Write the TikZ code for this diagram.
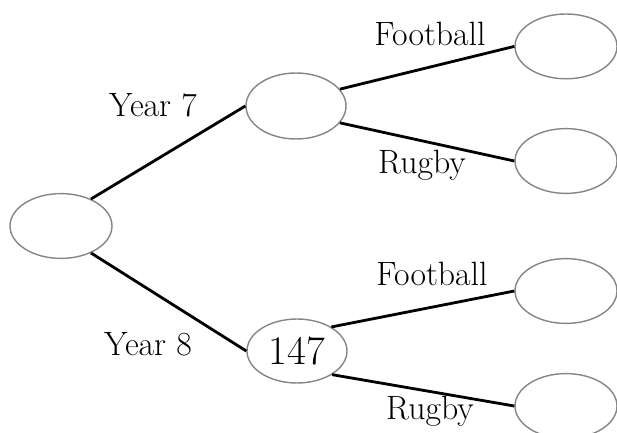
\documentclass[tikz,border=0pt]{standalone}
\usepackage{amsmath}
\usetikzlibrary{shapes.geometric}
\usetikzlibrary{positioning}

\begin{document}
\begin{tikzpicture}[font=\fontsize{24}{28}\selectfont,
		blank/.style={draw=black!48, line width=1pt, ellipse, inner sep=0pt, minimum width=2.55cm, minimum height=1.62cm},
		branch/.style={line width=2pt}]
		\useasboundingbox (0, 0) rectangle (15.425, -10.8);

		\node (start) [blank] at (1.525, -5.65) {};
		\node (yseven) [blank, minimum width=2.5cm, minimum height=1.65cm] at (7.4, -2.65) {};
		\node (yeight) [blank, minimum width=2.5cm, minimum height=1.6cm, font=\fontsize{29}{33}\selectfont] at (7.425, -8.775) {147};

		\node (foot7) [blank] at (14.15, -1.16) {};
		\node (rug7) [blank] at (14.15, -4.025) {};
		\node (foot8) [blank] at (14.15, -7.275) {};
		\node (rug8) [blank] at (14.15, -10.15) {};

		\draw [branch] (start.42) -- (yseven.west);
		\draw [branch] (start.-42) -- (yeight.west);
		\draw [branch] (yseven.21) -- (foot7.west);
		\draw [branch] (yseven.-21) -- (rug7.west);
		\draw [branch] (yeight.35) -- (foot8.west);
		\draw [branch] (yeight.-34) -- (rug8.west);

		\node (lyseven) at (3.825, -2.64) {Year 7};
		\node (lyeight) at (3.7, -8.61) {Year 8};
		\node (lfoot7) at (10.75, -0.85) {Football};
		\node (lrug7) at (10.55, -4.12) {Rugby};
		\node (lfoot8) at (10.8, -6.85) {Football};
		\node (lrug8) at (10.75, -10.27) {Rugby};
	\end{tikzpicture}
\end{document}
